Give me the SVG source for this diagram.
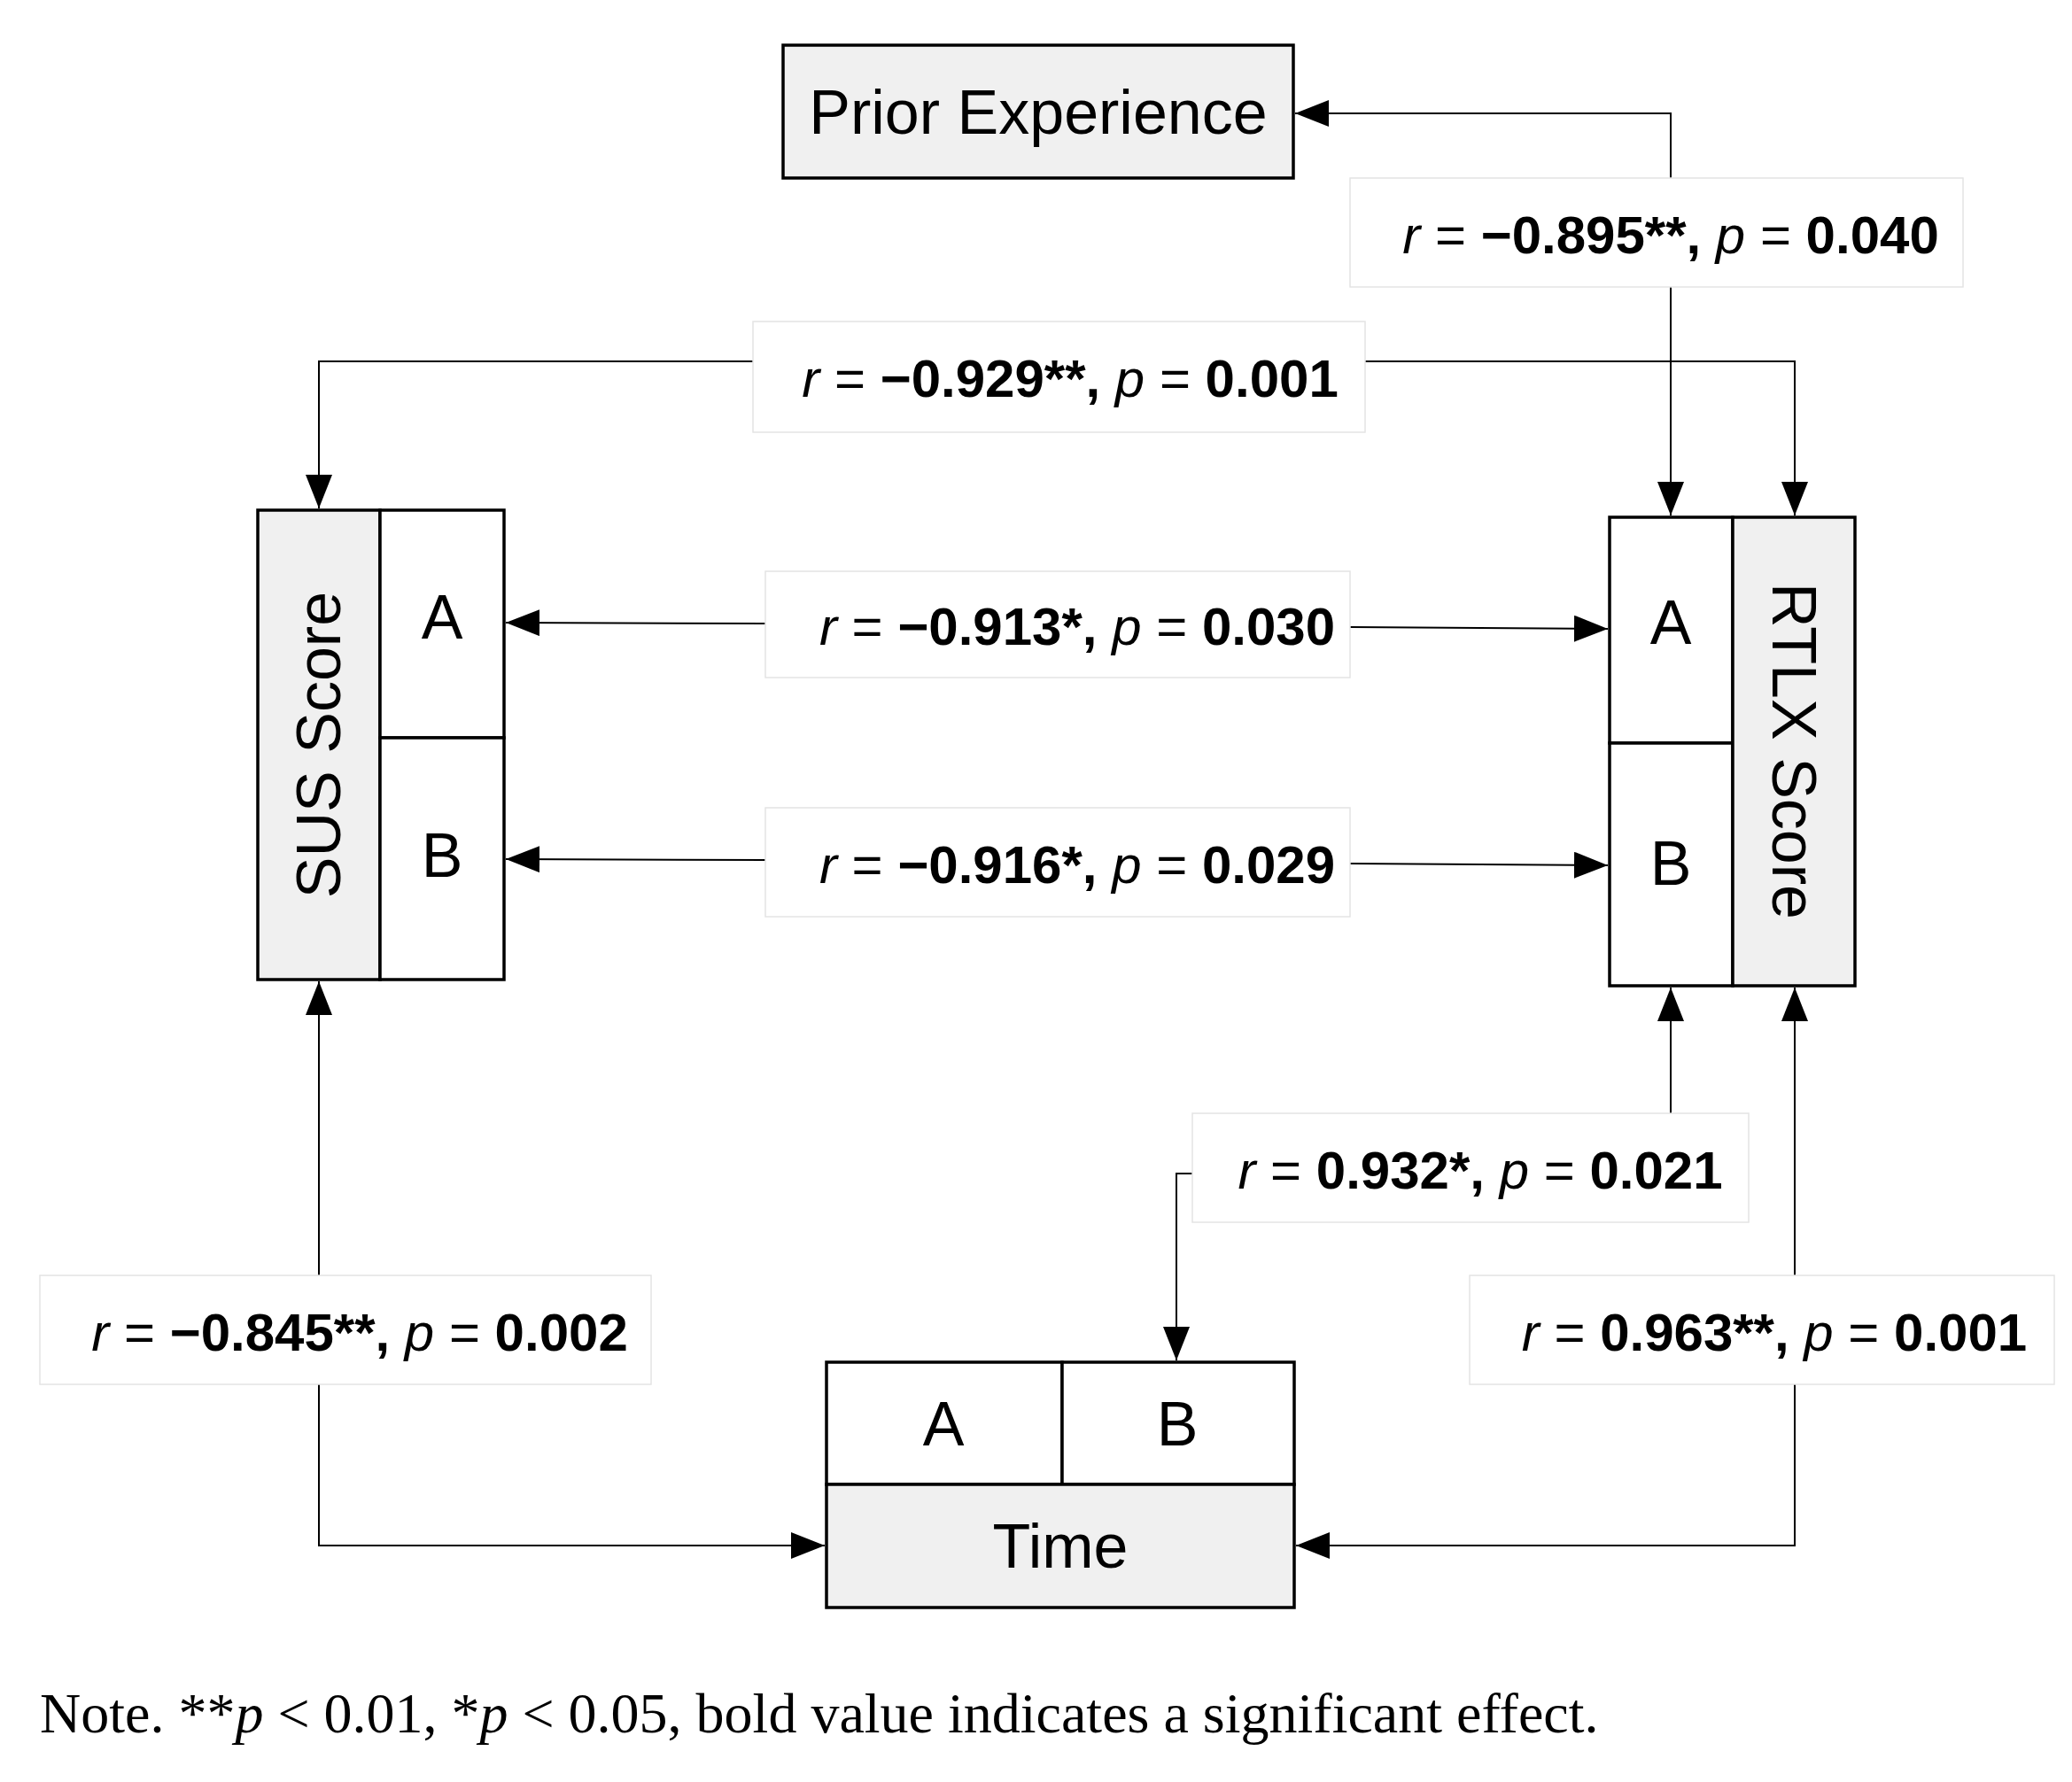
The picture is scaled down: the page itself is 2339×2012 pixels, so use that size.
<svg xmlns="http://www.w3.org/2000/svg" width="2339" height="2012" viewBox="0 0 2339 2012">
<style>
.box{stroke:#000;stroke-width:3.5}
.g{fill:#f0f0f0}.w{fill:#fff}
.nt{font-family:"Liberation Sans",Arial,sans-serif;font-size:70px;text-anchor:middle;fill:#000}
.lbl{fill:#fff;stroke:#e4e4e4;stroke-width:1.5}
.lt{font-family:"Liberation Sans",Arial,sans-serif;font-size:60px;fill:#000;text-anchor:middle}
.b{font-weight:bold}.i{font-style:italic}
.c{fill:none;stroke:#000;stroke-width:2}
</style>
<defs>
<marker id="ah" markerUnits="userSpaceOnUse" markerWidth="40" markerHeight="30" refX="38" refY="15" orient="auto"><path d="M0,0 L38,15 L0,30 Z" fill="#000"/></marker>
</defs>
<rect width="2339" height="2012" fill="#fff"/>
<g id="connectors">
<polyline class="c" points="1886,201 1886,128 1462,128" marker-end="url(#ah)"/>
<line class="c" x1="1886" y1="324" x2="1886" y2="582" marker-end="url(#ah)"/>
<polyline class="c" points="850,408 360,408 360,574" marker-end="url(#ah)"/>
<polyline class="c" points="1541,408 2026,408 2026,582" marker-end="url(#ah)"/>
<line class="c" x1="864" y1="704" x2="571" y2="703" marker-end="url(#ah)"/>
<line class="c" x1="1524" y1="708" x2="1815" y2="710" marker-end="url(#ah)"/>
<line class="c" x1="864" y1="971" x2="571" y2="970" marker-end="url(#ah)"/>
<line class="c" x1="1524" y1="975" x2="1815" y2="977" marker-end="url(#ah)"/>
<line class="c" x1="1886" y1="1257" x2="1886" y2="1115" marker-end="url(#ah)"/>
<polyline class="c" points="1346,1325 1328,1325 1328,1536" marker-end="url(#ah)"/>
<line class="c" x1="360" y1="1440" x2="360" y2="1108" marker-end="url(#ah)"/>
<polyline class="c" points="360,1563 360,1745 931,1745" marker-end="url(#ah)"/>
<line class="c" x1="2026" y1="1440" x2="2026" y2="1115" marker-end="url(#ah)"/>
<polyline class="c" points="2026,1563 2026,1745 1463,1745" marker-end="url(#ah)"/>
</g>
<g id="prior">
<rect class="box g" x="884" y="51" width="576" height="150"/>
<text class="nt" x="1172" y="151">Prior Experience</text>
</g>
<g id="sus">
<rect class="box g" x="291" y="576" width="138" height="530"/>
<rect class="box w" x="429" y="576" width="140" height="257"/>
<rect class="box w" x="429" y="833" width="140" height="273"/>
<text class="nt" transform="translate(384,841) rotate(-90)">SUS Score</text>
<text class="nt" x="499" y="721">A</text>
<text class="nt" x="499" y="990">B</text>
</g>
<g id="rtlx">
<rect class="box w" x="1817" y="584" width="139" height="255"/>
<rect class="box w" x="1817" y="839" width="139" height="274"/>
<rect class="box g" x="1956" y="584" width="138" height="529"/>
<text class="nt" transform="translate(2001,848) rotate(90)">RTLX Score</text>
<text class="nt" x="1886" y="727">A</text>
<text class="nt" x="1886" y="999">B</text>
</g>
<g id="time">
<rect class="box w" x="933" y="1538" width="266" height="138"/>
<rect class="box w" x="1199" y="1538" width="262" height="138"/>
<rect class="box g" x="933" y="1676" width="528" height="139"/>
<text class="nt" x="1065" y="1632">A</text>
<text class="nt" x="1329" y="1632">B</text>
<text class="nt" x="1197" y="1770">Time</text>
</g>
<g id="labels">
<rect class="lbl" x="1524" y="201" width="692" height="123"/>
<text class="lt" x="1886" y="286"><tspan class="i">r</tspan> = <tspan class="b">−0.895**,</tspan> <tspan class="i">p</tspan> = <tspan class="b">0.040</tspan></text>
<rect class="lbl" x="850" y="363" width="691" height="125"/>
<text class="lt" x="1208" y="448"><tspan class="i">r</tspan> = <tspan class="b">−0.929**,</tspan> <tspan class="i">p</tspan> = <tspan class="b">0.001</tspan></text>
<rect class="lbl" x="864" y="645" width="660" height="120"/>
<text class="lt" x="1216" y="728"><tspan class="i">r</tspan> = <tspan class="b">−0.913*,</tspan> <tspan class="i">p</tspan> = <tspan class="b">0.030</tspan></text>
<rect class="lbl" x="864" y="912" width="660" height="123"/>
<text class="lt" x="1216" y="997"><tspan class="i">r</tspan> = <tspan class="b">−0.916*,</tspan> <tspan class="i">p</tspan> = <tspan class="b">0.029</tspan></text>
<rect class="lbl" x="1346" y="1257" width="628" height="123"/>
<text class="lt" x="1671" y="1342"><tspan class="i">r</tspan> = <tspan class="b">0.932*,</tspan> <tspan class="i">p</tspan> = <tspan class="b">0.021</tspan></text>
<rect class="lbl" x="45" y="1440" width="690" height="123"/>
<text class="lt" x="406" y="1525"><tspan class="i">r</tspan> = <tspan class="b">−0.845**,</tspan> <tspan class="i">p</tspan> = <tspan class="b">0.002</tspan></text>
<rect class="lbl" x="1659" y="1440" width="660" height="123"/>
<text class="lt" x="2003" y="1525"><tspan class="i">r</tspan> = <tspan class="b">0.963**,</tspan> <tspan class="i">p</tspan> = <tspan class="b">0.001</tspan></text>
</g>
<text x="45" y="1956" font-family="'Liberation Serif','Times New Roman',serif" font-size="64">Note. **<tspan font-style="italic">p</tspan> &lt; 0.01, *<tspan font-style="italic">p</tspan> &lt; 0.05, bold value indicates a significant effect.</text>
</svg>
